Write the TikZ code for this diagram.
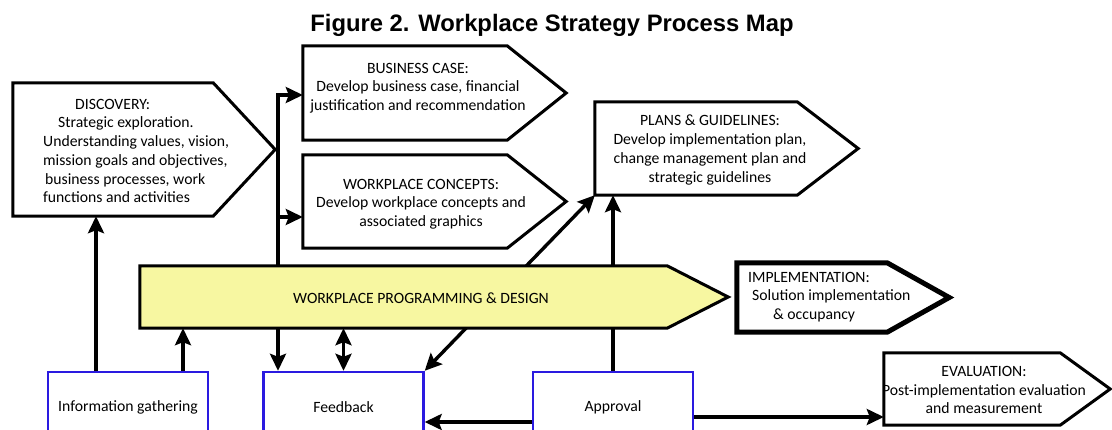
\documentclass[tikz,border=0pt]{standalone}
\usepackage{fontspec}
\setmainfont{Carlito}
\newfontfamily\titlefont{Liberation Sans}
\usepackage{tikz}
\usetikzlibrary{positioning,arrows.meta,calc}
\definecolor{barYellow}{HTML}{F7F7A1}
\definecolor{boxBlue}{HTML}{2A1AE0}
\pgfdeclarelayer{behind}
\pgfdeclarelayer{shapes}
\pgfsetlayers{behind,shapes,main}
% pointed outline round a body node: name, pointer length, extra style
\newcommand{\pointbox}[3]{%
  \begin{pgfonlayer}{shapes}
    \foreach \sx/\sy in {1/-2,2/-3.5,3/-5,4/-6.5,5/-8}
      \fill[black, opacity=0.16, xshift=\sx pt, yshift=\sy pt]
        (#1.north west) -- (#1.north east) -- ([xshift=#2]#1.east)
        -- (#1.south east) -- (#1.south west) -- cycle;
    \path[pointshape,#3] (#1.north west) -- (#1.north east) -- ([xshift=#2]#1.east)
      -- (#1.south east) -- (#1.south west) -- cycle;
  \end{pgfonlayer}}
\tikzset{
  body/.style 2 args={minimum width=#1, minimum height=#2, inner sep=0pt},
  pointshape/.style={draw=black, line width=3pt, fill=white, line join=miter},
  txt/.style={font=\fontsize{15.7}{18.7}\selectfont, inner sep=0pt, align=left},
  txtc/.style={txt, align=center},
  stage/.style={draw=boxBlue, line width=2.4pt, minimum width=160pt, minimum height=70pt,
    inner sep=0pt, font=\fontsize{15.7}{18.7}\selectfont},
  conn/.style={line width=3.4pt, -{Stealth[length=17pt,width=16pt,inset=3pt]}},
  dconn/.style={line width=3.4pt, {Stealth[length=17pt,width=16pt,inset=3pt]}-{Stealth[length=17pt,width=16pt,inset=3pt]}}
}

\begin{document}
\begin{tikzpicture}[x=1pt, y=-1pt]
  \begin{pgfonlayer}{behind}
    \fill[white] (0,0) rectangle (1112,430);
  \end{pgfonlayer}
  \useasboundingbox (0,0) rectangle (1112,430);

  % title
  \node[anchor=base, font=\titlefont\bfseries\fontsize{23.8}{28}\selectfont] (title) at (552,32)
    {Figure 2. Workplace Strategy Process Map};

  % pointed boxes
  \node[body={200}{133}] (disc) at (113,149.5) {};
  \pointbox{disc}{62}{}
  \node[txt, anchor=west] (disc-t) at (43,151) {\hspace*{32pt}DISCOVERY:\\
    \hspace*{15pt}Strategic exploration.\\ Understanding values, vision,\\
    mission goals and objectives,\\ \hspace*{2pt}business processes, work\\
    functions and activities};

  \node[body={204}{94}] (bc) at (405,93) {};
  \pointbox{bc}{59}{}
  \node[txtc] (bc-t) at (418,88) {BUSINESS CASE:\\ Develop business case, financial\\
    justification and recommendation};

  \node[body={204}{93}] (wc) at (405,201.5) {};
  \pointbox{wc}{59}{}
  \node[txtc] (wc-t) at (421,204) {WORKPLACE CONCEPTS:\\ Develop workplace concepts and\\
    associated graphics};

  \node[body={202}{93}] (pg) at (696,148.5) {};
  \pointbox{pg}{61}{}
  \node[txtc] (pg-t) at (710,150) {PLANS \& GUIDELINES:\\ Develop implementation plan,\\
    change management plan and\\ strategic guidelines};

  \node[body={527}{62}] (bar) at (403.5,297) {};
  \pointbox{bar}{61}{fill=barYellow}
  \node[txtc] (bar-t) at (421,298) {WORKPLACE PROGRAMMING \& DESIGN};

  \node[body={150}{69}] (impl) at (812,297.5) {};
  \pointbox{impl}{62}{line width=5pt}
  \node[txt, anchor=west] (impl-t) at (748,297) {IMPLEMENTATION:\\
    \hspace*{4pt}Solution implementation\\ \hspace*{25pt}\& occupancy};

  \node[body={176}{72}] (eval) at (972,389) {};
  \pointbox{eval}{50}{}
  \node[txtc] (eval-t) at (984,390) {EVALUATION:\\ Post-implementation evaluation\\
    and measurement};

  % bottom boxes
  \node[stage] (info) at (128,407) {Information gathering};
  \node[stage] (fb) at (343.5,407) {Feedback};
  \node[stage] (ap) at (613,407) {Approval};

  % connectors
  \coordinate (fork) at (278,95);
  \coordinate (fork2) at (278,217);
  \begin{pgfonlayer}{behind}
    \draw[conn, line cap=rect] (fork) -- (fork |- fb.north);
    \draw[dconn] (fb.north east) -- (pg.south west);
    \draw[conn] (ap.north) -- (ap.north |- pg.south);
  \end{pgfonlayer}
  \draw[conn] ([xshift=-32]info.north) -- ([xshift=-32]info.north |- disc.south);
  \draw[conn] ([xshift=55]info.north) -- ([xshift=55]info.north |- bar.south);
  \draw[conn] (fork) -- (bc.west |- fork);
  \draw[conn] (fork2) -- (wc.west |- fork2);
  \draw[dconn] (fb.north) -- (fb.north |- bar.south);
  \draw[conn] ([yshift=-15]ap.west) -- ([yshift=-15]ap.west -| fb.east);
  \draw[conn] ([yshift=-10]ap.east) -- ([yshift=-10]ap.east -| eval.west);
\end{tikzpicture}
\end{document}
